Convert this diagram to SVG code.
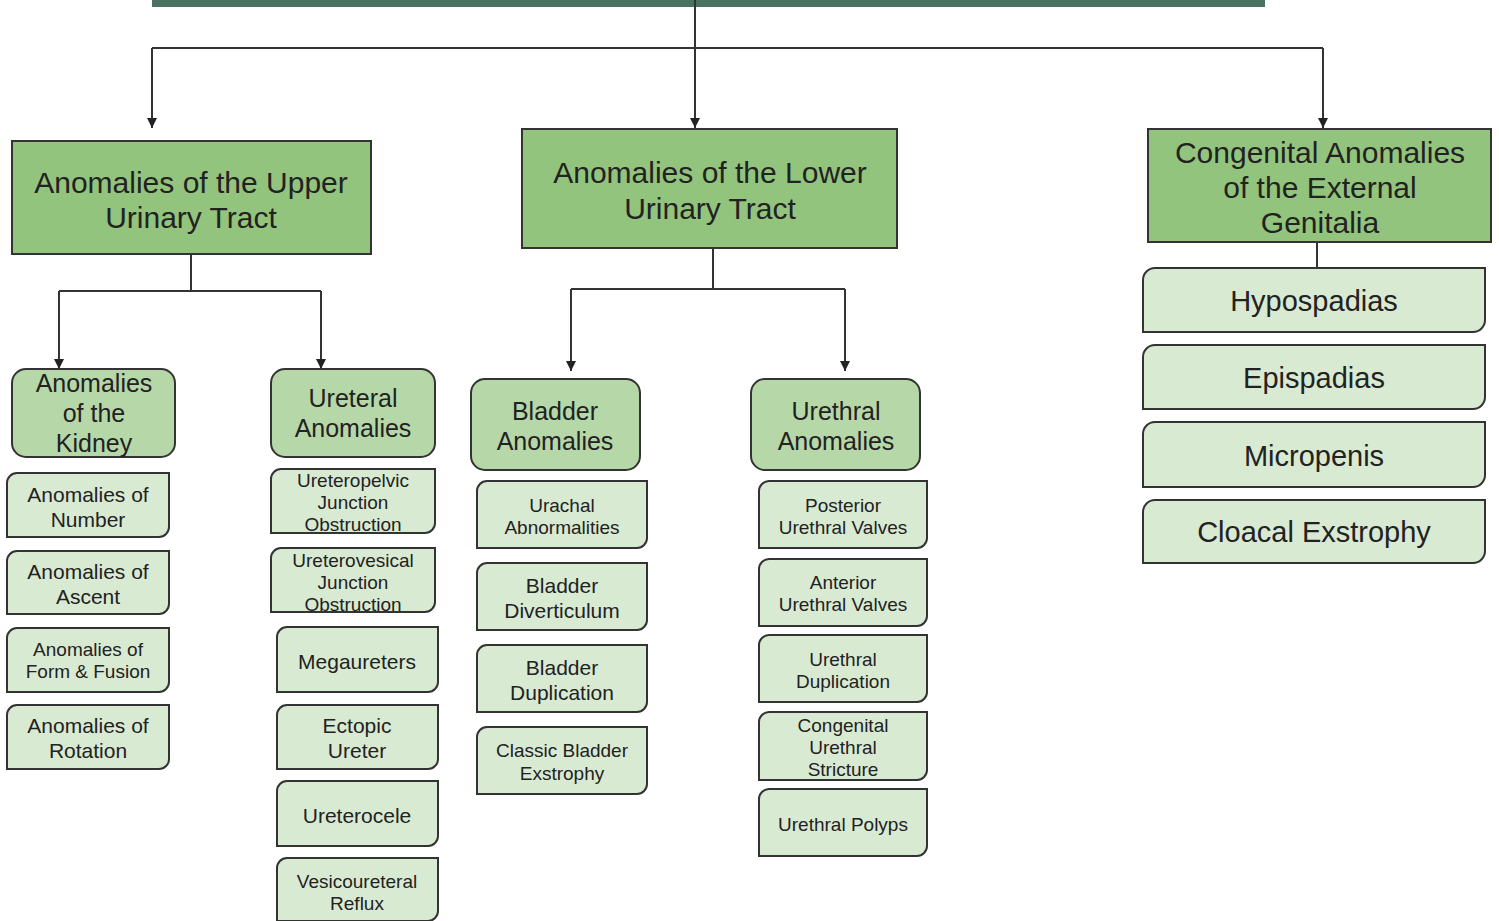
<svg xmlns="http://www.w3.org/2000/svg" width="1499" height="921" viewBox="0 0 1499 921">
<defs>
<marker id="arr" viewBox="0 0 10 10" refX="10" refY="5" markerWidth="10" markerHeight="10" markerUnits="userSpaceOnUse" orient="auto">
<path d="M0,0 L10,5 L0,10 Z" fill="#222"/>
</marker>
</defs>
<style>
text{font-family:"Liberation Sans",Arial,sans-serif;fill:#222;text-anchor:middle;dominant-baseline:central}
.top{fill:#93c47d;stroke:#333;stroke-width:2}
.mid{fill:#b6d7a8;stroke:#333;stroke-width:2}
.leaf{fill:#d9ead3;stroke:#333;stroke-width:2}
.t1{font-size:30px}
.t2{font-size:25px}
.t3{font-size:21px}
.t4{font-size:19px}
.t5{font-size:29px}
.con{fill:none;stroke:#333;stroke-width:2}
</style>
<rect x="152" y="-10" width="1113" height="17" fill="#4a7262"/>
<g id="connectors">
<path class="con" d="M695,0 V48 M152,48 H1323"/>
<path class="con" d="M152,48 V128" marker-end="url(#arr)"/>
<path class="con" d="M695,48 V128" marker-end="url(#arr)"/>
<path class="con" d="M1323,48 V128" marker-end="url(#arr)"/>
<path class="con" d="M191,254 V291 M59,291 H321"/>
<path class="con" d="M59,291 V369" marker-end="url(#arr)"/>
<path class="con" d="M321,291 V369" marker-end="url(#arr)"/>
<path class="con" d="M713,248 V289 M571,289 H845"/>
<path class="con" d="M571,289 V371" marker-end="url(#arr)"/>
<path class="con" d="M845,289 V371" marker-end="url(#arr)"/>
<path class="con" d="M1317,242 V269"/>
</g>
<g id="upper"><rect class="top" x="12" y="141" width="359" height="113"/><text class="t1" x="191" y="182">Anomalies of the Upper</text><text class="t1" x="191" y="217">Urinary Tract</text></g>
<g id="lower"><rect class="top" x="522" y="129" width="375" height="119"/><text class="t1" x="710" y="172">Anomalies of the Lower</text><text class="t1" x="710" y="208">Urinary Tract</text></g>
<g id="genitalia"><rect class="top" x="1148" y="129" width="343" height="113"/><text class="t1" x="1320" y="152">Congenital Anomalies</text><text class="t1" x="1320" y="187">of the External</text><text class="t1" x="1320" y="222">Genitalia</text></g>

<g id="kidney"><rect class="mid" x="12" y="369" width="163" height="88" rx="14"/><text class="t2" x="94" y="383">Anomalies</text><text class="t2" x="94" y="413">of the</text><text class="t2" x="94" y="443">Kidney</text></g>
<g id="ureteral"><rect class="mid" x="271" y="369" width="164" height="88" rx="14"/><text class="t2" x="353" y="398">Ureteral</text><text class="t2" x="353" y="428">Anomalies</text></g>
<g id="bladder"><rect class="mid" x="471" y="379" width="169" height="91" rx="14"/><text class="t2" x="555" y="411">Bladder</text><text class="t2" x="555" y="441">Anomalies</text></g>
<g id="urethral"><rect class="mid" x="751" y="379" width="169" height="91" rx="14"/><text class="t2" x="836" y="411">Urethral</text><text class="t2" x="836" y="441">Anomalies</text></g>

<g id="number"><path class="leaf" d="M17,473 H169 V527 A10,10 0 0 1 159,537 H7 V483 A10,10 0 0 1 17,473 Z"/><text class="t3" x="88" y="494">Anomalies of</text><text class="t3" x="88" y="519">Number</text></g>
<g id="ascent"><path class="leaf" d="M17,551 H169 V604 A10,10 0 0 1 159,614 H7 V561 A10,10 0 0 1 17,551 Z"/><text class="t3" x="88" y="571">Anomalies of</text><text class="t3" x="88" y="596">Ascent</text></g>
<g id="form"><path class="leaf" d="M17,628 H169 V682 A10,10 0 0 1 159,692 H7 V638 A10,10 0 0 1 17,628 Z"/><text class="t4" x="88" y="649">Anomalies of</text><text class="t4" x="88" y="671">Form &amp; Fusion</text></g>
<g id="rotation"><path class="leaf" d="M17,705 H169 V759 A10,10 0 0 1 159,769 H7 V715 A10,10 0 0 1 17,705 Z"/><text class="t3" x="88" y="725">Anomalies of</text><text class="t3" x="88" y="750">Rotation</text></g>

<g id="upj"><path class="leaf" d="M281,469 H435 V523 A10,10 0 0 1 425,533 H271 V479 A10,10 0 0 1 281,469 Z"/><text class="t4" x="353" y="480">Ureteropelvic</text><text class="t4" x="353" y="502">Junction</text><text class="t4" x="353" y="524">Obstruction</text></g>
<g id="uvj"><path class="leaf" d="M281,548 H435 V602 A10,10 0 0 1 425,612 H271 V558 A10,10 0 0 1 281,548 Z"/><text class="t4" x="353" y="560">Ureterovesical</text><text class="t4" x="353" y="582">Junction</text><text class="t4" x="353" y="604">Obstruction</text></g>
<g id="megaureters"><path class="leaf" d="M287,627 H438 V682 A10,10 0 0 1 428,692 H277 V637 A10,10 0 0 1 287,627 Z"/><text class="t3" x="357" y="661">Megaureters</text></g>
<g id="ectopic"><path class="leaf" d="M287,705 H438 V759 A10,10 0 0 1 428,769 H277 V715 A10,10 0 0 1 287,705 Z"/><text class="t3" x="357" y="725">Ectopic</text><text class="t3" x="357" y="750">Ureter</text></g>
<g id="ureterocele"><path class="leaf" d="M287,781 H438 V836 A10,10 0 0 1 428,846 H277 V791 A10,10 0 0 1 287,781 Z"/><text class="t3" x="357" y="815">Ureterocele</text></g>
<g id="vur"><path class="leaf" d="M287,858 H438 V911 A10,10 0 0 1 428,921 H277 V868 A10,10 0 0 1 287,858 Z"/><text class="t4" x="357" y="881">Vesicoureteral</text><text class="t4" x="357" y="903">Reflux</text></g>

<g id="urachal"><path class="leaf" d="M487,481 H647 V538 A10,10 0 0 1 637,548 H477 V491 A10,10 0 0 1 487,481 Z"/><text class="t4" x="562" y="505">Urachal</text><text class="t4" x="562" y="527">Abnormalities</text></g>
<g id="diverticulum"><path class="leaf" d="M487,563 H647 V620 A10,10 0 0 1 637,630 H477 V573 A10,10 0 0 1 487,563 Z"/><text class="t3" x="562" y="585">Bladder</text><text class="t3" x="562" y="610">Diverticulum</text></g>
<g id="bduplication"><path class="leaf" d="M487,645 H647 V702 A10,10 0 0 1 637,712 H477 V655 A10,10 0 0 1 487,645 Z"/><text class="t3" x="562" y="667">Bladder</text><text class="t3" x="562" y="692">Duplication</text></g>
<g id="exstrophy"><path class="leaf" d="M487,727 H647 V784 A10,10 0 0 1 637,794 H477 V737 A10,10 0 0 1 487,727 Z"/><text class="t4" x="562" y="750">Classic Bladder</text><text class="t4" x="562" y="773">Exstrophy</text></g>

<g id="posterior"><path class="leaf" d="M769,481 H927 V538 A10,10 0 0 1 917,548 H759 V491 A10,10 0 0 1 769,481 Z"/><text class="t4" x="843" y="505">Posterior</text><text class="t4" x="843" y="527">Urethral Valves</text></g>
<g id="anterior"><path class="leaf" d="M769,559 H927 V616 A10,10 0 0 1 917,626 H759 V569 A10,10 0 0 1 769,559 Z"/><text class="t4" x="843" y="582">Anterior</text><text class="t4" x="843" y="604">Urethral Valves</text></g>
<g id="uduplication"><path class="leaf" d="M769,635 H927 V692 A10,10 0 0 1 917,702 H759 V645 A10,10 0 0 1 769,635 Z"/><text class="t4" x="843" y="659">Urethral</text><text class="t4" x="843" y="681">Duplication</text></g>
<g id="stricture"><path class="leaf" d="M769,712 H927 V770 A10,10 0 0 1 917,780 H759 V722 A10,10 0 0 1 769,712 Z"/><text class="t4" x="843" y="725">Congenital</text><text class="t4" x="843" y="747">Urethral</text><text class="t4" x="843" y="769">Stricture</text></g>
<g id="polyps"><path class="leaf" d="M769,789 H927 V846 A10,10 0 0 1 917,856 H759 V799 A10,10 0 0 1 769,789 Z"/><text class="t4" x="843" y="824">Urethral Polyps</text></g>

<g id="hypospadias"><path class="leaf" d="M1155,268 H1485 V320 A12,12 0 0 1 1473,332 H1143 V280 A12,12 0 0 1 1155,268 Z"/><text class="t5" x="1314" y="301">Hypospadias</text></g>
<g id="epispadias"><path class="leaf" d="M1155,345 H1485 V397 A12,12 0 0 1 1473,409 H1143 V357 A12,12 0 0 1 1155,345 Z"/><text class="t5" x="1314" y="378">Epispadias</text></g>
<g id="micropenis"><path class="leaf" d="M1155,422 H1485 V475 A12,12 0 0 1 1473,487 H1143 V434 A12,12 0 0 1 1155,422 Z"/><text class="t5" x="1314" y="456">Micropenis</text></g>
<g id="cloacal"><path class="leaf" d="M1155,500 H1485 V551 A12,12 0 0 1 1473,563 H1143 V512 A12,12 0 0 1 1155,500 Z"/><text class="t5" x="1314" y="532">Cloacal Exstrophy</text></g>
</svg>
